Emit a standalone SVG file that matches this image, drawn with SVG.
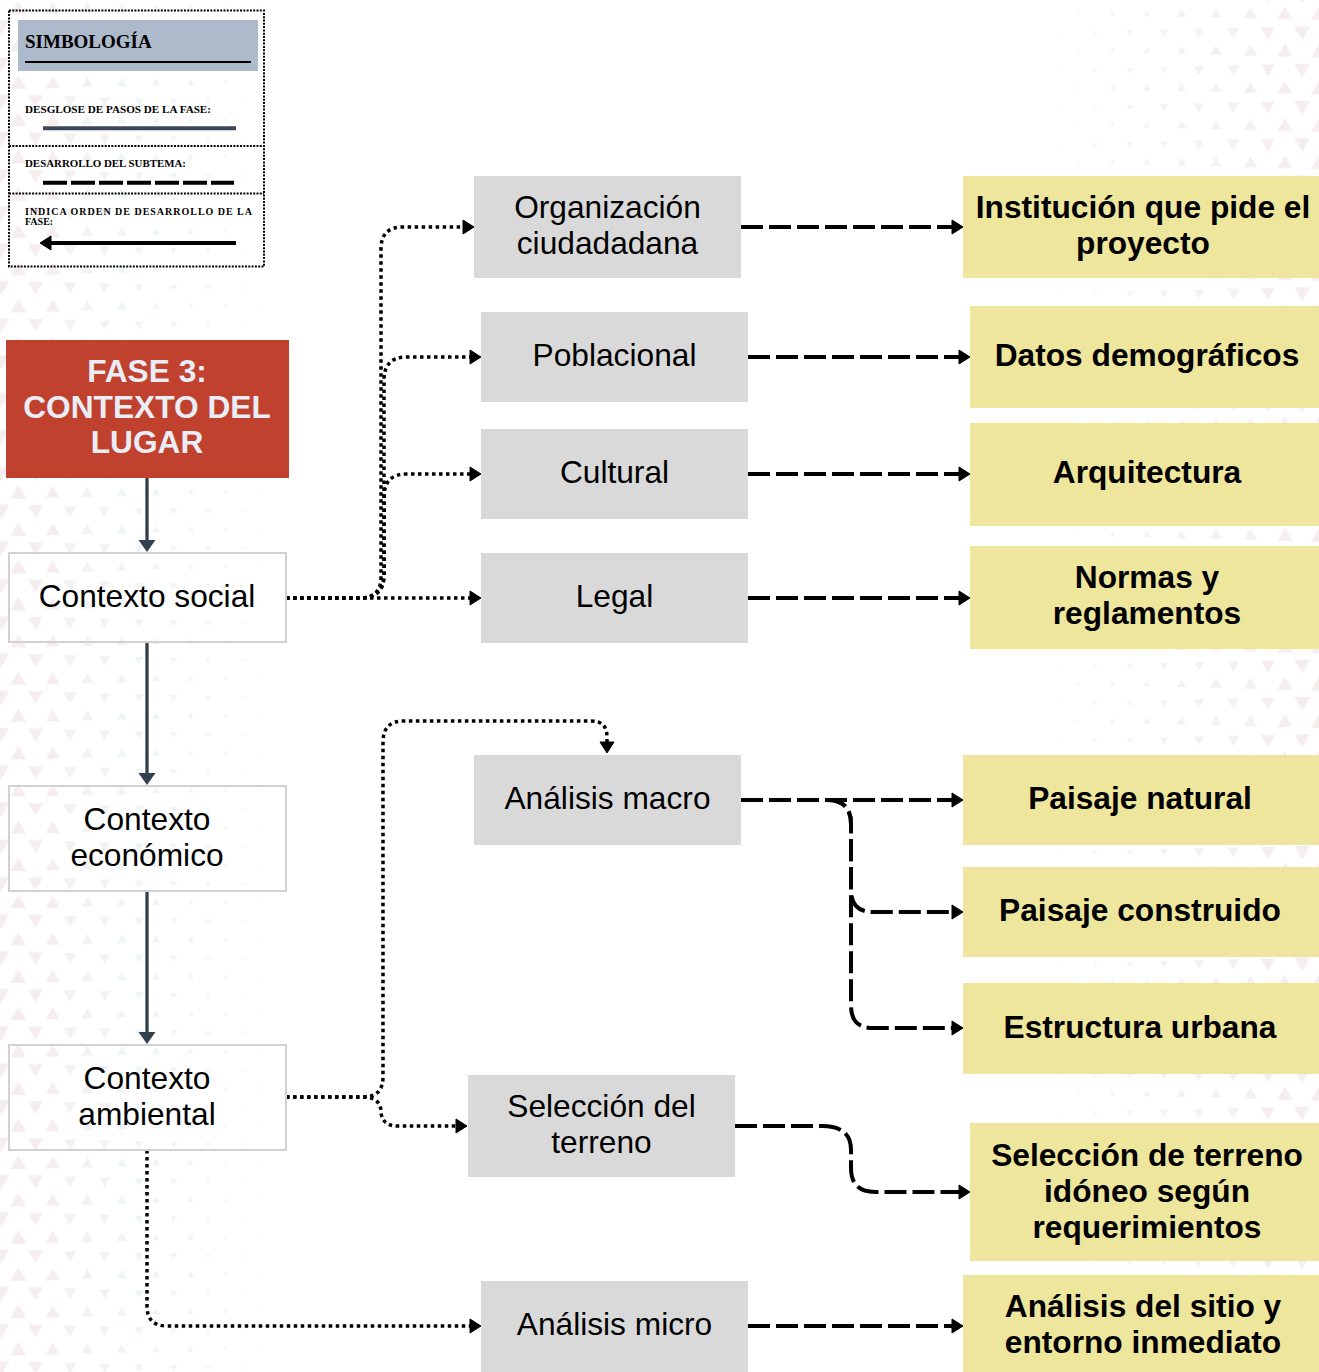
<svg xmlns="http://www.w3.org/2000/svg" width="1319" height="1372" viewBox="0 0 1319 1372">
  <style>
    .gray { fill: #d9d9d9; }
    .yel { fill: #eee69c; }
    .ctx { fill: none; stroke: #d2d0d1; stroke-width: 2; }
    .t { font-family: "Liberation Sans", Arial, sans-serif; font-size: 31.7px; text-anchor: middle; fill: #000; }
    .b { font-weight: bold; }
    .hd { fill: #e8edf6; }
    .lg { font-family: "Liberation Serif", "Times New Roman", serif; font-weight: bold; fill: #000; }
    .dot { fill: none; stroke: #000; stroke-width: 3.5; stroke-dasharray: 3.5 3.5; marker-end: url(#ah); }
    .dash { fill: none; stroke: #000; stroke-width: 4; stroke-dasharray: 22 6; marker-end: url(#ah); }
    .solid { fill: none; stroke: #323f4f; stroke-width: 3.3; marker-end: url(#as); }
    .pk { fill: #f6eeee; }
    .gy { fill: #f2f2f4; }
    .bl { fill: #eff5f6; }
  </style>
  <defs>
    <marker id="ah" markerUnits="userSpaceOnUse" markerWidth="12" markerHeight="15" refX="3" refY="7" orient="auto" overflow="visible">
      <path d="M0,0 L11,7 L0,14 Z" fill="#000" stroke="#000" stroke-width="1" stroke-linejoin="round"/>
    </marker>
    <marker id="as" markerUnits="userSpaceOnUse" markerWidth="13" markerHeight="18" refX="6" refY="8.5" orient="auto" overflow="visible">
      <path d="M0,0 L12,8.5 L0,17 Z" fill="#323f4f"/>
    </marker>
    <!-- left edge triangle columns: upward -->
    <pattern id="lu1" patternUnits="userSpaceOnUse" x="1.05" y="-11.1" width="34.5" height="37.25"><polygon class="pk" points="17.25,11.65 25.25,25.55 9.25,25.55"/></pattern>
    <pattern id="lu2" patternUnits="userSpaceOnUse" x="35.55" y="-11.1" width="34.5" height="37.25"><polygon class="pk" points="17.25,12.55 24.25,24.65 10.25,24.65"/></pattern>
    <pattern id="lu3" patternUnits="userSpaceOnUse" x="70.05" y="-11.1" width="34.5" height="37.25"><polygon class="gy" points="17.25,13.4 23.25,23.8 11.25,23.8"/></pattern>
    <pattern id="lu4" patternUnits="userSpaceOnUse" x="104.55" y="-11.1" width="34.5" height="37.25"><polygon class="bl" points="17.25,14.25 22.3,22.95 12.2,22.95"/></pattern>
    <pattern id="lu5" patternUnits="userSpaceOnUse" x="139.05" y="-11.1" width="34.5" height="37.25"><polygon class="bl" points="17.25,15.1 21.3,22.1 13.2,22.1"/></pattern>
    <pattern id="lu6" patternUnits="userSpaceOnUse" x="173.55" y="-11.1" width="34.5" height="37.25"><polygon class="bl" points="17.25,15.95 20.3,21.25 14.2,21.25"/></pattern>
    <pattern id="lu7" patternUnits="userSpaceOnUse" x="208.05" y="-11.1" width="34.5" height="37.25"><polygon class="bl" points="17.25,16.8 19.35,20.4 15.15,20.4"/></pattern>
    <pattern id="lu8" patternUnits="userSpaceOnUse" x="242.55" y="-11.1" width="34.5" height="37.25"><polygon class="bl" points="17.25,17.65 18.35,19.55 16.15,19.55"/></pattern>
    <!-- left edge triangle columns: downward -->
    <pattern id="ld1" patternUnits="userSpaceOnUse" x="-16.25" y="8.9" width="34.5" height="37.25"><polygon class="pk" points="8.8,11.3 25.7,11.3 17.25,25.9"/></pattern>
    <pattern id="ld2" patternUnits="userSpaceOnUse" x="18.25" y="8.9" width="34.5" height="37.25"><polygon class="pk" points="9.75,12.1 24.75,12.1 17.25,25.1"/></pattern>
    <pattern id="ld3" patternUnits="userSpaceOnUse" x="52.75" y="8.9" width="34.5" height="37.25"><polygon class="gy" points="10.75,12.95 23.75,12.95 17.25,24.25"/></pattern>
    <pattern id="ld4" patternUnits="userSpaceOnUse" x="87.25" y="8.9" width="34.5" height="37.25"><polygon class="gy" points="11.75,13.85 22.75,13.85 17.25,23.35"/></pattern>
    <pattern id="ld5" patternUnits="userSpaceOnUse" x="121.75" y="8.9" width="34.5" height="37.25"><polygon class="bl" points="12.7,14.65 21.8,14.65 17.25,22.55"/></pattern>
    <pattern id="ld6" patternUnits="userSpaceOnUse" x="156.25" y="8.9" width="34.5" height="37.25"><polygon class="bl" points="13.7,15.55 20.8,15.55 17.25,21.65"/></pattern>
    <pattern id="ld7" patternUnits="userSpaceOnUse" x="190.75" y="8.9" width="34.5" height="37.25"><polygon class="bl" points="14.7,16.4 19.8,16.4 17.25,20.8"/></pattern>
    <pattern id="ld8" patternUnits="userSpaceOnUse" x="225.25" y="8.9" width="34.5" height="37.25"><polygon class="bl" points="15.65,17.2 18.85,17.2 17.25,20"/></pattern>
    <!-- right edge triangle columns: upward -->
    <pattern id="ru1" patternUnits="userSpaceOnUse" x="1060.75" y="-5.9" width="34.5" height="37.25"><polygon class="bl" points="17.25,17.15 18.9,20.05 15.6,20.05"/></pattern>
    <pattern id="ru2" patternUnits="userSpaceOnUse" x="1095.25" y="-5.9" width="34.5" height="37.25"><polygon class="bl" points="17.25,16.35 19.85,20.85 14.65,20.85"/></pattern>
    <pattern id="ru3" patternUnits="userSpaceOnUse" x="1129.75" y="-5.9" width="34.5" height="37.25"><polygon class="bl" points="17.25,15.5 20.85,21.7 13.65,21.7"/></pattern>
    <pattern id="ru4" patternUnits="userSpaceOnUse" x="1164.25" y="-5.9" width="34.5" height="37.25"><polygon class="gy" points="17.25,14.6 21.85,22.6 12.65,22.6"/></pattern>
    <pattern id="ru5" patternUnits="userSpaceOnUse" x="1198.75" y="-5.9" width="34.5" height="37.25"><polygon class="gy" points="17.25,13.8 22.8,23.4 11.7,23.4"/></pattern>
    <pattern id="ru6" patternUnits="userSpaceOnUse" x="1233.25" y="-5.9" width="34.5" height="37.25"><polygon class="gy" points="17.25,12.95 23.8,24.25 10.7,24.25"/></pattern>
    <pattern id="ru7" patternUnits="userSpaceOnUse" x="1267.75" y="-5.9" width="34.5" height="37.25"><polygon class="pk" points="17.25,12.05 24.8,25.15 9.7,25.15"/></pattern>
    <pattern id="ru8" patternUnits="userSpaceOnUse" x="1302.25" y="-5.9" width="34.5" height="37.25"><polygon class="pk" points="17.25,11.25 25.75,25.95 8.75,25.95"/></pattern>
    <!-- right edge triangle columns: downward -->
    <pattern id="rd1" patternUnits="userSpaceOnUse" x="1043.5" y="14.7" width="34.5" height="37.25"><polygon class="bl" points="16.1,17.6 18.4,17.6 17.25,19.6"/></pattern>
    <pattern id="rd2" patternUnits="userSpaceOnUse" x="1078" y="14.7" width="34.5" height="37.25"><polygon class="bl" points="15.15,16.8 19.35,16.8 17.25,20.4"/></pattern>
    <pattern id="rd3" patternUnits="userSpaceOnUse" x="1112.5" y="14.7" width="34.5" height="37.25"><polygon class="bl" points="14.15,15.9 20.35,15.9 17.25,21.3"/></pattern>
    <pattern id="rd4" patternUnits="userSpaceOnUse" x="1147" y="14.7" width="34.5" height="37.25"><polygon class="bl" points="13.15,15.05 21.35,15.05 17.25,22.15"/></pattern>
    <pattern id="rd5" patternUnits="userSpaceOnUse" x="1181.5" y="14.7" width="34.5" height="37.25"><polygon class="gy" points="12.15,14.2 22.35,14.2 17.25,23"/></pattern>
    <pattern id="rd6" patternUnits="userSpaceOnUse" x="1216" y="14.7" width="34.5" height="37.25"><polygon class="gy" points="11.2,13.35 23.3,13.35 17.25,23.85"/></pattern>
    <pattern id="rd7" patternUnits="userSpaceOnUse" x="1250.5" y="14.7" width="34.5" height="37.25"><polygon class="pk" points="10.2,12.5 24.3,12.5 17.25,24.7"/></pattern>
    <pattern id="rd8" patternUnits="userSpaceOnUse" x="1285" y="14.7" width="34.5" height="37.25"><polygon class="pk" points="9.25,11.65 25.25,11.65 17.25,25.55"/></pattern>
  </defs>

  <!-- page background with fading triangle texture on both edges -->
  <rect x="0" y="0" width="1319" height="1372" fill="#ffffff"/>
  <g id="texture">
    <rect x="1.05" y="0" width="34.5" height="1372" fill="url(#lu1)"/>
    <rect x="35.55" y="0" width="34.5" height="1372" fill="url(#lu2)"/>
    <rect x="70.05" y="0" width="34.5" height="1372" fill="url(#lu3)"/>
    <rect x="104.55" y="0" width="34.5" height="1372" fill="url(#lu4)"/>
    <rect x="139.05" y="0" width="34.5" height="1372" fill="url(#lu5)"/>
    <rect x="173.55" y="0" width="34.5" height="1372" fill="url(#lu6)"/>
    <rect x="208.05" y="0" width="34.5" height="1372" fill="url(#lu7)"/>
    <rect x="242.55" y="0" width="34.5" height="1372" fill="url(#lu8)"/>
    <rect x="0" y="0" width="18.25" height="1372" fill="url(#ld1)"/>
    <rect x="18.25" y="0" width="34.5" height="1372" fill="url(#ld2)"/>
    <rect x="52.75" y="0" width="34.5" height="1372" fill="url(#ld3)"/>
    <rect x="87.25" y="0" width="34.5" height="1372" fill="url(#ld4)"/>
    <rect x="121.75" y="0" width="34.5" height="1372" fill="url(#ld5)"/>
    <rect x="156.25" y="0" width="34.5" height="1372" fill="url(#ld6)"/>
    <rect x="190.75" y="0" width="34.5" height="1372" fill="url(#ld7)"/>
    <rect x="225.25" y="0" width="34.5" height="1372" fill="url(#ld8)"/>
    <rect x="1060.75" y="0" width="34.5" height="1372" fill="url(#ru1)"/>
    <rect x="1095.25" y="0" width="34.5" height="1372" fill="url(#ru2)"/>
    <rect x="1129.75" y="0" width="34.5" height="1372" fill="url(#ru3)"/>
    <rect x="1164.25" y="0" width="34.5" height="1372" fill="url(#ru4)"/>
    <rect x="1198.75" y="0" width="34.5" height="1372" fill="url(#ru5)"/>
    <rect x="1233.25" y="0" width="34.5" height="1372" fill="url(#ru6)"/>
    <rect x="1267.75" y="0" width="34.5" height="1372" fill="url(#ru7)"/>
    <rect x="1302.25" y="0" width="34.5" height="1372" fill="url(#ru8)"/>
    <rect x="1043.5" y="0" width="34.5" height="1372" fill="url(#rd1)"/>
    <rect x="1078" y="0" width="34.5" height="1372" fill="url(#rd2)"/>
    <rect x="1112.5" y="0" width="34.5" height="1372" fill="url(#rd3)"/>
    <rect x="1147" y="0" width="34.5" height="1372" fill="url(#rd4)"/>
    <rect x="1181.5" y="0" width="34.5" height="1372" fill="url(#rd5)"/>
    <rect x="1216" y="0" width="34.5" height="1372" fill="url(#rd6)"/>
    <rect x="1250.5" y="0" width="34.5" height="1372" fill="url(#rd7)"/>
    <rect x="1285" y="0" width="34.5" height="1372" fill="url(#rd8)"/>
  </g>

  <!-- legend -->
  <g id="legend">
    <rect x="9" y="10.5" width="255" height="256" fill="none" stroke="#000" stroke-width="2" stroke-dasharray="2 1.3"/>
    <rect x="18" y="20" width="240" height="51" fill="#adbacb"/>
    <text class="lg" x="25" y="48" font-size="19">SIMBOLOGÍA</text>
    <line x1="25" y1="62" x2="251" y2="62" stroke="#000" stroke-width="2"/>
    <text class="lg" x="25" y="113" font-size="10.8" textLength="186" lengthAdjust="spacingAndGlyphs">DESGLOSE DE PASOS DE LA FASE:</text>
    <line x1="43" y1="128.3" x2="236" y2="128.3" stroke="#3b4659" stroke-width="4"/>
    <line x1="9" y1="146" x2="264" y2="146" stroke="#000" stroke-width="2" stroke-dasharray="2 1.3"/>
    <text class="lg" x="25" y="167" font-size="10.8" textLength="161" lengthAdjust="spacingAndGlyphs">DESARROLLO DEL SUBTEMA:</text>
    <line x1="43" y1="182.7" x2="234" y2="182.7" stroke="#000" stroke-width="4" stroke-dasharray="24 4"/>
    <line x1="9" y1="193.5" x2="264" y2="193.5" stroke="#000" stroke-width="2" stroke-dasharray="2 1.3"/>
    <text class="lg" x="25" y="215" font-size="10" textLength="227" lengthAdjust="spacing">INDICA ORDEN DE DESARROLLO DE LA</text>
    <text class="lg" x="25" y="224.5" font-size="10">FASE:</text>
    <path d="M236,243 H48" fill="none" stroke="#000" stroke-width="4" marker-end="url(#ah)"/>
  </g>

  <!-- connectors -->
  <g id="connectors">
    <!-- phase sequence -->
    <path class="solid" d="M147,478 V546"/>
    <path class="solid" d="M147,642 V779"/>
    <path class="solid" d="M147,891 V1038"/>
    <!-- social context branches -->
    <path class="dot" d="M286,598 H360 Q381,598 381,577 V249 Q381,227 403,227 H466"/>
    <path class="dot" d="M286,598 H360 Q384,598 384,575 V380 Q384,357 407,357 H473"/>
    <path class="dot" d="M286,598 H360 Q384,598 384,575 V497 Q384,474 407,474 H473"/>
    <path class="dot" d="M286,598 H473"/>
    <!-- environmental context branches -->
    <path class="dot" d="M286,1097 H363 Q383,1097 383,1077 V742 Q383,721 404,721 H591 Q607,721 607,737 V745"/>
    <path class="dot" d="M286,1097 H366 Q381,1099 381,1112 Q382,1126 398,1126 H459"/>
    <path class="dot" d="M147,1150 V1306 Q147,1326 167,1326 H473"/>
    <!-- subtopic development -->
    <path class="dash" d="M741,227 H955"/>
    <path class="dash" d="M748,357 H962"/>
    <path class="dash" d="M748,474 H962"/>
    <path class="dash" d="M748,598 H962"/>
    <path class="dash" d="M741,800 H955"/>
    <path class="dash" d="M741,800 H827 Q851,800 851,824 V890 Q851,912 873,912 H955"/>
    <path class="dash" d="M741,800 H827 Q851,800 851,824 V1006 Q851,1028 873,1028 H955"/>
    <path class="dash" d="M735,1126 H822 Q851,1126 851,1150 V1168 Q851,1192 875,1192 H962"/>
    <path class="dash" d="M748,1326 H955"/>
  </g>

  <!-- phase header -->
  <g id="fase3">
    <rect x="6" y="340" width="283" height="138" fill="#c1412f"/>
    <text class="t b hd" x="147" y="382">FASE 3:</text>
    <text class="t b hd" x="147" y="418">CONTEXTO DEL</text>
    <text class="t b hd" x="147" y="453">LUGAR</text>
  </g>

  <!-- phase steps -->
  <g id="contexto-social">
    <rect class="ctx" x="9" y="553" width="277" height="89"/>
    <text class="t" x="147" y="607">Contexto social</text>
  </g>
  <g id="contexto-economico">
    <rect class="ctx" x="9" y="786" width="277" height="105"/>
    <text class="t" x="147" y="830">Contexto</text>
    <text class="t" x="147" y="866">económico</text>
  </g>
  <g id="contexto-ambiental">
    <rect class="ctx" x="9" y="1045" width="277" height="105"/>
    <text class="t" x="147" y="1089">Contexto</text>
    <text class="t" x="147" y="1125">ambiental</text>
  </g>

  <!-- subtopics -->
  <g id="organizacion">
    <rect class="gray" x="474" y="176" width="267" height="102"/>
    <text class="t" x="607.5" y="218">Organización</text>
    <text class="t" x="607.5" y="254">ciudadadana</text>
  </g>
  <g id="poblacional">
    <rect class="gray" x="481" y="312" width="267" height="90"/>
    <text class="t" x="614.5" y="366">Poblacional</text>
  </g>
  <g id="cultural">
    <rect class="gray" x="481" y="429" width="267" height="90"/>
    <text class="t" x="614.5" y="483">Cultural</text>
  </g>
  <g id="legal">
    <rect class="gray" x="481" y="553" width="267" height="90"/>
    <text class="t" x="614.5" y="607">Legal</text>
  </g>
  <g id="analisis-macro">
    <rect class="gray" x="474" y="755" width="267" height="90"/>
    <text class="t" x="607.5" y="809">Análisis macro</text>
  </g>
  <g id="seleccion-terreno">
    <rect class="gray" x="468" y="1075" width="267" height="102"/>
    <text class="t" x="601.5" y="1117">Selección del</text>
    <text class="t" x="601.5" y="1153">terreno</text>
  </g>
  <g id="analisis-micro">
    <rect class="gray" x="481" y="1281" width="267" height="91"/>
    <text class="t" x="614.5" y="1335">Análisis micro</text>
  </g>

  <!-- results -->
  <g id="institucion">
    <rect class="yel" x="963" y="176" width="356" height="102"/>
    <text class="t b" x="1143" y="218">Institución que pide el</text>
    <text class="t b" x="1143" y="254">proyecto</text>
  </g>
  <g id="datos-demograficos">
    <rect class="yel" x="970" y="306" width="349" height="102"/>
    <text class="t b" x="1147" y="366">Datos demográficos</text>
  </g>
  <g id="arquitectura">
    <rect class="yel" x="970" y="423" width="349" height="103"/>
    <text class="t b" x="1147" y="483">Arquitectura</text>
  </g>
  <g id="normas">
    <rect class="yel" x="970" y="546" width="349" height="103"/>
    <text class="t b" x="1147" y="588">Normas y</text>
    <text class="t b" x="1147" y="624">reglamentos</text>
  </g>
  <g id="paisaje-natural">
    <rect class="yel" x="963" y="755" width="356" height="90"/>
    <text class="t b" x="1140" y="809">Paisaje natural</text>
  </g>
  <g id="paisaje-construido">
    <rect class="yel" x="963" y="867" width="356" height="90"/>
    <text class="t b" x="1140" y="921">Paisaje construido</text>
  </g>
  <g id="estructura-urbana">
    <rect class="yel" x="963" y="983" width="356" height="91"/>
    <text class="t b" x="1140" y="1038">Estructura urbana</text>
  </g>
  <g id="seleccion-idoneo">
    <rect class="yel" x="970" y="1123" width="349" height="138"/>
    <text class="t b" x="1147" y="1166">Selección de terreno</text>
    <text class="t b" x="1147" y="1202">idóneo según</text>
    <text class="t b" x="1147" y="1238">requerimientos</text>
  </g>
  <g id="analisis-sitio">
    <rect class="yel" x="963" y="1275" width="356" height="97"/>
    <text class="t b" x="1143" y="1317">Análisis del sitio y</text>
    <text class="t b" x="1143" y="1353">entorno inmediato</text>
  </g>
</svg>
